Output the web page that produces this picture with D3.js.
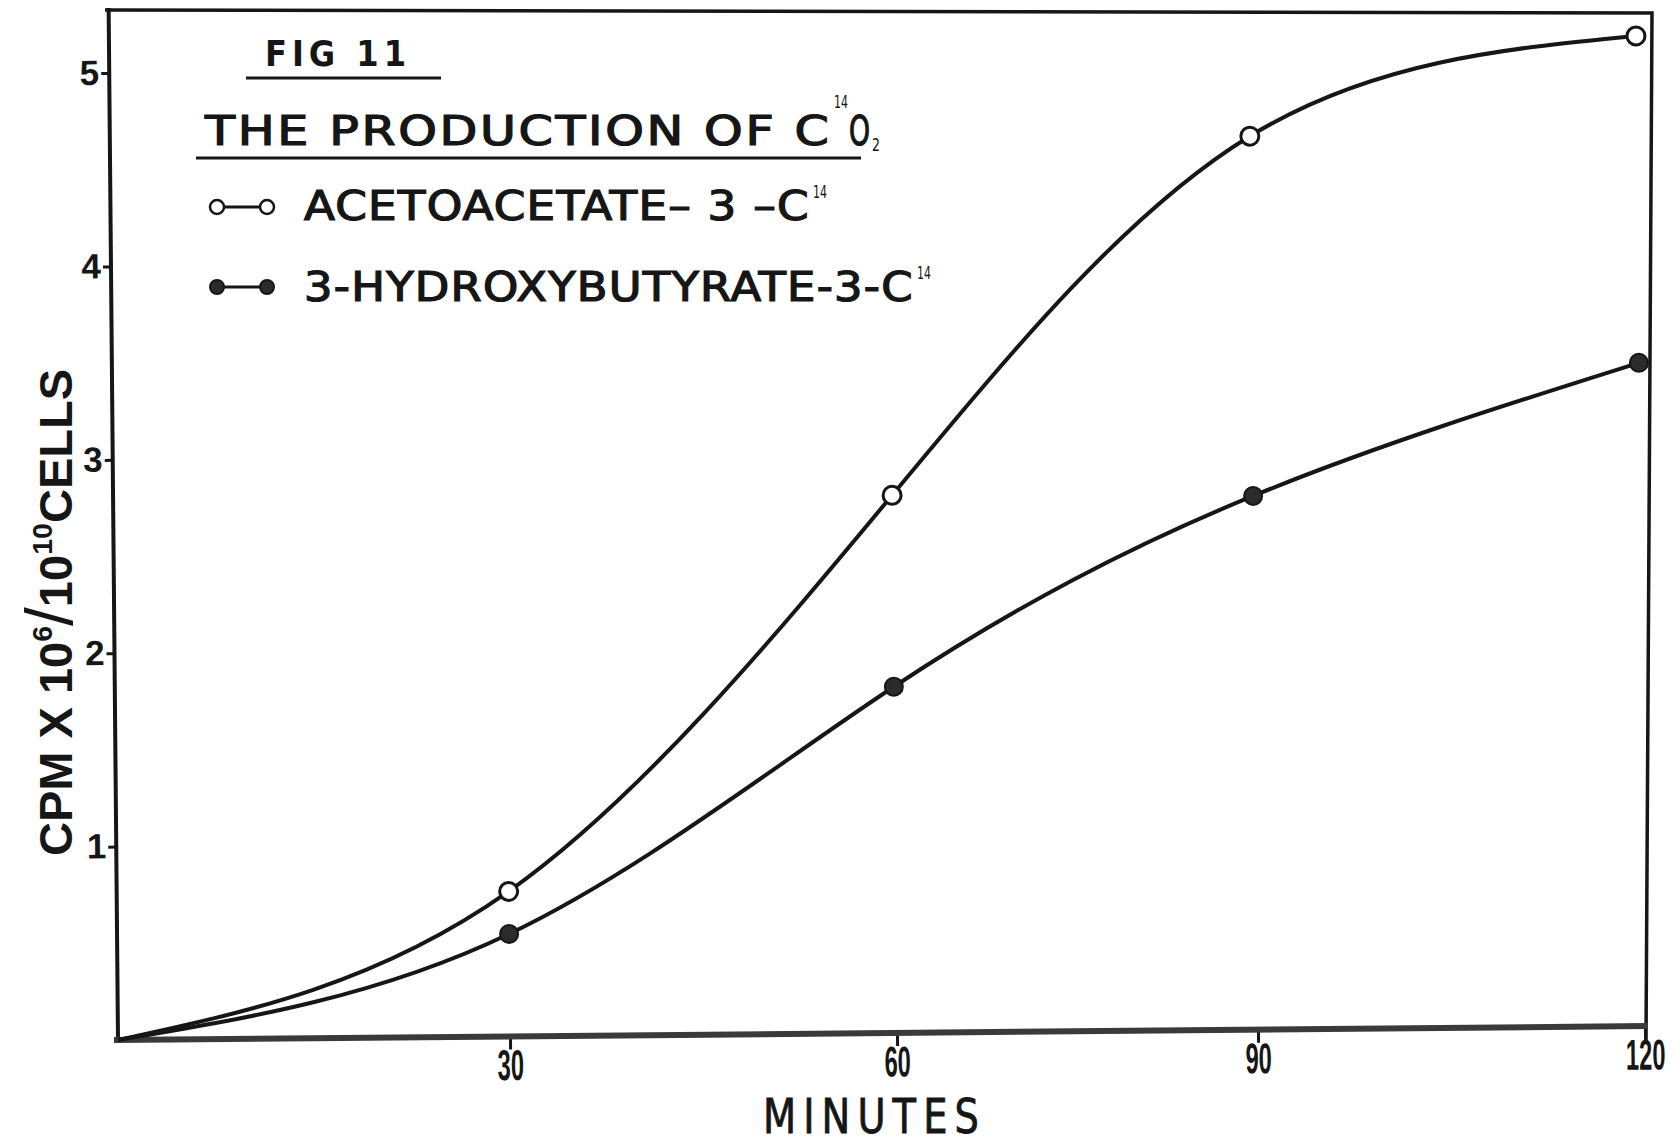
<!DOCTYPE html>
<html>
<head>
<meta charset="utf-8">
<script src="https://cdn.jsdelivr.net/npm/d3@7"></script>
<style>
  body { margin: 0; background: #fff; }
  svg { display: block; }
</style>
</head>
<body>
<div id="chart"></div>
<script>
// values
const minutes = [0, 30, 60, 90, 120];
const acetoacetate = [0, 0.75, 2.78, 4.62, 5.12];
const hydroxybutyrate = [0, 0.53, 1.79, 2.76, 3.43];
const xTicks = [30, 60, 90, 120];
const yTicks = [1, 2, 3, 4, 5];

const W = 1677, H = 1145;
const INK = '#161616';
const LETTER = '"Liberation Sans Narrow", "DejaVu Sans Condensed", "Liberation Sans", sans-serif';
const BOLD = '"Liberation Sans", Arial, sans-serif';

// plot frame in local coords (origin = bottom-left corner), the scan is slightly rotated
const origin = { x: 118, y: 1040 };
const plotW = 1527;
const tilt = -0.52;

const svg = d3.select('#chart').append('svg')
  .attr('width', W).attr('height', H);
svg.append('rect').attr('width', W).attr('height', H).attr('fill', '#fff');

// hand-ruled axis: the minute ticks are not quite evenly spaced
const x = d3.scaleLinear().domain(minutes).range([0, 392, 779, 1140, plotW]);
const y = d3.scaleLinear().domain([0, 5]).range([0, -967]);

// top and right edges of the box (ruled separately on the original)
svg.append('path')
  .attr('d', 'M105,10 L1652,13 L1646,1042')
  .attr('fill', 'none').attr('stroke', INK).attr('stroke-width', 3.5)
  .attr('stroke-linejoin', 'miter');

const plot = svg.append('g')
  .attr('transform', `translate(${origin.x},${origin.y}) rotate(${tilt})`);

plot.append('line').attr('x1', 0).attr('y1', 0).attr('x2', 0).attr('y2', -1032)
  .attr('stroke', INK).attr('stroke-width', 4);

// axes
const yAxis = plot.append('g')
  .call(d3.axisLeft(y).tickValues(yTicks).tickSize(8).tickPadding(2).tickFormat(d3.format('d')));
yAxis.select('.domain').remove();
yAxis.selectAll('line').attr('stroke', INK).attr('stroke-width', 3);
yAxis.selectAll('text')
  .attr('font-family', BOLD).attr('font-weight', 'bold').attr('font-size', 35).attr('fill', INK);

const xAxis = plot.append('g')
  .call(d3.axisBottom(x).tickValues(xTicks).tickSize(13).tickPadding(0));
xAxis.select('.domain').remove();
xAxis.selectAll('line').attr('stroke', INK).attr('stroke-width', 3);
xAxis.selectAll('text')
  .attr('font-family', BOLD).attr('font-weight', 'bold').attr('font-size', 43).attr('fill', INK)
  .attr('transform', 'scale(0.55,1)');

plot.append('line').attr('x1', -4).attr('y1', 0).attr('x2', plotW + 2).attr('y2', 0)
  .attr('stroke', '#3a3a3a').attr('stroke-width', 6);

// curves
const series = [
  { name: 'ACETOACETATE', values: acetoacetate, open: true },
  { name: '3-HYDROXYBUTYRATE', values: hydroxybutyrate, open: false }
];

const line = d3.line()
  .x((d, i) => x(minutes[i]))
  .y(d => y(d))
  .curve(d3.curveNatural);

plot.selectAll('path.curve')
  .data(series)
  .enter().append('path')
  .attr('class', 'curve')
  .attr('d', d => line(d.values))
  .attr('fill', 'none')
  .attr('stroke', INK)
  .attr('stroke-width', 4);

series.forEach(s => {
  plot.selectAll(null)
    .data(s.values.slice(1))
    .enter().append('circle')
    .attr('cx', (d, i) => x(minutes[i + 1]))
    .attr('cy', d => y(d))
    .attr('r', 9)
    .attr('fill', s.open ? '#fff' : '#2b2b2b')
    .attr('stroke', INK)
    .attr('stroke-width', s.open ? 3 : 2);
});

// text helper: squeeze/stretch a string to a measured width
function fitText(parent, str, left, baseline, width, size, weight, spacing, outline) {
  const t = parent.append('text')
    .attr('font-family', LETTER)
    .attr('font-size', size)
    .attr('font-weight', weight || 'normal')
    .attr('letter-spacing', spacing || 0)
    .attr('fill', INK)
    .attr('stroke', INK)
    .attr('stroke-width', outline || 0)
    .text(str);
  const w = t.node().getBBox().width;
  t.attr('transform', `translate(${left},${baseline}) scale(${width / w},1)`);
  return t;
}

// title block
const title = svg.append('g');
fitText(title, 'FIG 11', 265, 66, 146, 36, 'bold', 5);
title.append('line').attr('x1', 246).attr('x2', 441).attr('y1', 78).attr('y2', 78)
  .attr('stroke', INK).attr('stroke-width', 3);

fitText(title, 'THE  PRODUCTION   OF  C', 205, 145, 628, 41, 'normal', 2, 1.2);
fitText(title, '14', 834, 108, 14, 17, 'normal');
fitText(title, 'O', 849, 145, 21, 41, 'normal', 0, 1.2);
fitText(title, '2', 872, 151, 8, 17, 'normal');
title.append('line').attr('x1', 196).attr('x2', 861).attr('y1', 158).attr('y2', 158)
  .attr('stroke', INK).attr('stroke-width', 3);

// legend
const legendRows = [
  { text: 'ACETOACETATE– 3 –C', right: 810, cy: 207, baseline: 220, open: true },
  { text: '3-HYDROXYBUTYRATE-3-C', right: 914, cy: 287, baseline: 301, open: false }
];
legendRows.forEach(r => {
  const g = svg.append('g');
  g.append('line').attr('x1', 217).attr('x2', 267).attr('y1', r.cy).attr('y2', r.cy)
    .attr('stroke', INK).attr('stroke-width', 3);
  [217, 267].forEach(cx => {
    g.append('circle').attr('cx', cx).attr('cy', r.cy).attr('r', 7)
      .attr('fill', r.open ? '#fff' : '#2b2b2b')
      .attr('stroke', INK).attr('stroke-width', r.open ? 2.5 : 2);
  });
  fitText(g, r.text, 304, r.baseline, r.right - 304, 40, 'normal', 1, 1.2);
  fitText(g, '14', r.right + 3, r.baseline - 22, 14, 17, 'normal');
});

// axis titles
fitText(svg, 'MINUTES', 763, 1133, 223, 48, 'normal', 8, 0.8);

const yt = svg.append('text')
  .attr('font-family', BOLD).attr('font-weight', 'bold').attr('font-size', 46).attr('fill', INK);
yt.append('tspan').text('CPM X 10');
yt.append('tspan').attr('font-size', 28).attr('dy', -20).text('6');
yt.append('tspan').attr('font-size', 66).attr('font-weight', 'normal').attr('dy', 20).text('/');
yt.append('tspan').text('10');
yt.append('tspan').attr('font-size', 28).attr('dy', -20).text('10');
yt.append('tspan').attr('dy', 20).text('CELLS');
const yw = yt.node().getBBox().width;
yt.attr('transform', `translate(72,856) rotate(-90) scale(${487 / yw},1)`);
</script>
</body>
</html>
